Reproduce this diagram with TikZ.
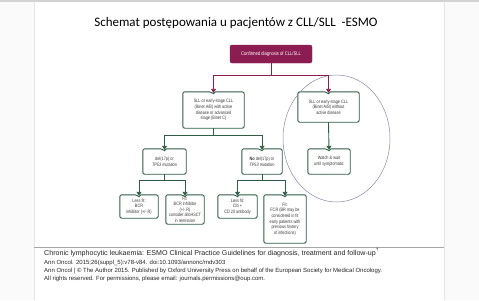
\documentclass[tikz,border=0pt]{standalone}
\usepackage{fontspec}
\setmainfont{Liberation Sans}
\newfontfamily\titlefont{Carlito}
\newfontfamily\condfont[FakeStretch=0.8]{Liberation Sans}
\usetikzlibrary{arrows.meta}
\definecolor{maroon}{HTML}{8C1D52}
\definecolor{dgreen}{HTML}{2F5D45}
\definecolor{ellcol}{HTML}{8A8AA8}
\definecolor{boxtext}{HTML}{3A3A3A}
\tikzset{
  box/.style={inner sep=0pt, align=center, text=boxtext,
    font=\condfont\fontsize{4.8}{5.6}\selectfont},
  conf/.style={fill=maroon, draw=maroon, rounded corners=2pt, inner sep=0pt,
    text=white, font=\condfont\fontsize{5.2}{6}\selectfont},
  mline/.style={draw=maroon, line width=0.9pt},
  gline/.style={draw=dgreen, line width=0.9pt},
  tip/.style={-{Triangle[width=5pt,length=4pt]}},
  captext/.style={anchor=base west, inner sep=0pt, text=black!85}
}
\newcommand\notchframe[1]{%
  \draw[gline, rounded corners=2pt] ([xshift=2pt]#1.north) -- (#1.north east) -- (#1.south east)
   -- (#1.south west) -- (#1.north west) -- ([xshift=-2pt]#1.north) [sharp corners]
   -- ([yshift=-2pt]#1.north) -- cycle;}
\begin{document}
\begin{tikzpicture}[x=1pt,y=-1pt]
\useasboundingbox (0,0) rectangle (479,300);
% background
\fill[gray!4] (0,0) rectangle (479,300);
\fill[white] (34,2) rectangle (444,300);
\draw[gray!20, line width=0.6pt] (34,2) -- (34,300) (444,2) -- (444,300);
\fill[gray!35] (0,0) rectangle (479,2);
\draw[gray!70, line width=0.6pt] (34,247) -- (444,247);
% title
\node[font=\titlefont\fontsize{13}{15}\selectfont, inner sep=0pt] (title) at (236,23)
  {Schemat postępowania u pacjentów z CLL/SLL\ \ -ESMO};
% nodes
\node[conf, minimum width=82pt, minimum height=18pt] (c) at (271,54) {Confirmed diagnosis of CLL/SLL};
\node[box, minimum width=61pt, minimum height=36pt] (act) at (213.5,110)
  {SLL or early-stage CLL\\(Binet A/B) with active\\disease or advanced\\stage (Binet C)};
\node[box, minimum width=61pt, minimum height=30pt] (noact) at (328.5,107)
  {SLL or early-stage CLL\\(Binet A/B) without\\active disease};
\node[box, minimum width=42pt, minimum height=25pt] (watch) at (329,161.5)
  {Watch \& wait\\until symptomatic};
\node[box, minimum width=43pt, minimum height=25pt] (del) at (164.5,161.5)
  {del(17p) or\\\textit{TP53} mutation};
\node[box, minimum width=40pt, minimum height=25pt] (nodel) at (262,161.5)
  {\textbf{No} del(17p) or\\\textit{TP53} mutation};
\node[box, minimum width=38pt, minimum height=23pt] (lf1) at (139,206.5)
  {Less fit:\\BCR\\inhibitor (+/- R)};
\node[box, minimum width=38pt, minimum height=29pt] (f1) at (185,209.5)
  {Fit:\\BCR inhibitor\\(+/- R)\\consider alloHSCT\\in remission};
\node[box, minimum width=39pt, minimum height=23pt] (lf2) at (237.5,206.5)
  {Less fit:\\Clb +\\CD 20 antibody};
\node[box, minimum width=42pt, minimum height=48pt] (f2) at (285,219)
  {Fit:\\FCR (BR may be\\considered in fit\\early patients with\\previous history\\of infections)};
\foreach \n in {act,noact,watch,del,nodel,lf1,f1,lf2,f2} {\notchframe{\n}}
% ellipse
\draw[ellcol, line width=0.5pt] (336.5,138.5) ellipse [x radius=53.5pt, y radius=63.5pt];
% connectors
\coordinate (j1) at (271,75);
\draw[mline] (c.south) -- (j1);
\draw[mline, tip] (j1) -| ([yshift=-1pt]act.north);
\draw[mline, tip] (j1) -| ([yshift=-1pt]noact.north);
\coordinate (j2) at (213.5,135);
\draw[gline] (act.south) -- (j2);
\draw[gline, tip] (j2) -| ([yshift=-1pt]del.north);
\draw[gline, tip] (j2) -| ([yshift=-1pt]nodel.north);
\draw[gline, tip] (noact.south) -- ([yshift=-1pt]watch.north);
\coordinate (j3) at (164.5,180);
\draw[gline] (del.south) -- (j3);
\draw[gline, tip] (j3) -| ([yshift=-1pt]lf1.north);
\draw[gline, tip] (j3) -| ([yshift=-1pt]f1.north);
\coordinate (j4) at (262,180);
\draw[gline] (nodel.south) -- (j4);
\draw[gline, tip] (j4) -| ([yshift=-1pt]lf2.north);
\draw[gline, tip] (j4) -| ([yshift=-1pt]f2.north);
% caption
\node[captext, font=\fontsize{7.1}{9}\selectfont] (cap1) at (44,255)
  {Chronic lymphocytic leukaemia: ESMO Clinical Practice Guidelines for diagnosis, treatment and follow-up\textsuperscript{†}};
\node[captext, font=\fontsize{6}{7}\selectfont] (cap2) at (44,264.5)
  {Ann Oncol. 2015;26(suppl\_5):v78-v84. doi:10.1093/annonc/mdv303};
\node[captext, font=\fontsize{6}{7}\selectfont] (cap3) at (44,272.5)
  {Ann Oncol | © The Author 2015. Published by Oxford University Press on behalf of the European Society for Medical Oncology.};
\node[captext, font=\fontsize{6}{7}\selectfont] (cap4) at (44,280.5)
  {All rights reserved. For permissions, please email: journals.permissions@oup.com.};
\end{tikzpicture}
\end{document}
